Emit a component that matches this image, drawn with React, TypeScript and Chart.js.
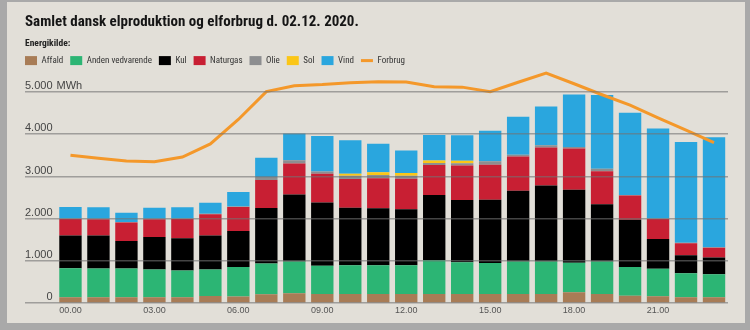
import React, { useEffect, useRef } from "react";
import { Chart, registerables } from "chart.js";

Chart.register(...registerables);

// ---------- data ----------
const hourLabels = [
  "00.00", "01.00", "02.00", "03.00", "04.00", "05.00", "06.00", "07.00",
  "08.00", "09.00", "10.00", "11.00", "12.00", "13.00", "14.00", "15.00",
  "16.00", "17.00", "18.00", "19.00", "20.00", "21.00", "22.00", "23.00",
];
const xTickHours = [0, 3, 6, 9, 12, 15, 18, 21];
const yTickValues = [0, 1000, 2000, 3000, 4000, 5000];

const affald = [140, 140, 140, 140, 140, 170, 160, 210, 235, 220, 220, 220, 220, 220, 220, 220, 215, 215, 260, 215, 175, 165, 140, 140];
const andenVedvarende = [690, 680, 680, 655, 635, 625, 695, 730, 750, 665, 680, 680, 680, 800, 750, 730, 770, 770, 700, 770, 680, 650, 570, 545];
const kul = [775, 780, 650, 770, 760, 805, 855, 1315, 1590, 1500, 1360, 1350, 1325, 1540, 1475, 1500, 1680, 1800, 1725, 1360, 1120, 705, 425, 395];
const naturgas = [390, 390, 440, 425, 460, 505, 570, 660, 730, 680, 680, 710, 720, 710, 815, 830, 805, 900, 980, 780, 575, 475, 285, 235];
const olie = [10, 10, 10, 10, 10, 10, 10, 75, 80, 55, 80, 75, 70, 50, 55, 80, 45, 55, 35, 60, 10, 10, 10, 10];
const sol = [0, 0, 0, 0, 0, 0, 0, 0, 0, 0, 45, 65, 65, 60, 60, 0, 0, 0, 0, 0, 0, 0, 0, 0];
const vind = [270, 270, 220, 260, 265, 265, 345, 455, 630, 840, 790, 675, 535, 600, 600, 720, 900, 915, 1240, 1745, 1950, 2130, 2385, 2605];
const forbrug = [3505, 3430, 3365, 3350, 3460, 3770, 4350, 5010, 5150, 5175, 5220, 5245, 5235, 5125, 5115, 5005, 5230, 5450, 5195, 4935, 4690, 4390, 4095, 3800];

const TITLE = "Samlet dansk elproduktion og elforbrug d. 02.12. 2020.";
const SUBTITLE = "Energikilde:";
const UNIT = "MWh";

// ---------- style ----------
const NARROW = '"Liberation Sans Narrow", "Roboto Condensed", "DejaVu Sans Condensed", Lato, sans-serif';
const REGULAR = '"Liberation Sans", Arial, sans-serif';
const Y_FONT_SIZE = 11;
const Y_LABEL_OFFSET = -6;

const COLORS = {
  affald: "#a87c56",
  anden: "#2cb574",
  kul: "#000000",
  naturgas: "#c81f33",
  olie: "#8d8e90",
  sol: "#fbc617",
  vind: "#2aa6de",
  forbrug: "#f4982a",
};

const fmt = (v: number) => String(v).replace(/\B(?=(\d{3})+(?!\d))/g, ".");
const pts = (arr: number[]) => arr.map((v, i) => ({ x: i, y: v }));

const unitPlugin = {
  id: "unitLabel",
  afterDraw(chart: any) {
    const ys = chart.scales.y;
    const ctx = chart.ctx;
    const top = yTickValues[yTickValues.length - 1];
    ctx.save();
    ctx.font = `${Y_FONT_SIZE}px ${REGULAR}`;
    ctx.fillStyle = "#444";
    ctx.textAlign = "left";
    ctx.textBaseline = "middle";
    const w = ctx.measureText(fmt(top)).width;
    ctx.fillText(UNIT, chart.chartArea.left + w + 4, ys.getPixelForValue(top) + Y_LABEL_OFFSET);
    ctx.restore();
  },
};

export default function App() {
  const ref = useRef<HTMLCanvasElement | null>(null);

  useEffect(() => {
    if (!ref.current) return;
    const barDs = (label: string, data: number[], color: string) => ({
      type: "bar" as const,
      label,
      data: pts(data),
      backgroundColor: color,
      borderWidth: 0,
      barPercentage: 0.8,
      categoryPercentage: 1,
      stack: "prod",
    });
    const chart = new Chart(ref.current, {
      type: "bar",
      data: {
        datasets: [
          barDs("Affald", affald, COLORS.affald),
          barDs("Anden vedvarende", andenVedvarende, COLORS.anden),
          barDs("Kul", kul, COLORS.kul),
          barDs("Naturgas", naturgas, COLORS.naturgas),
          barDs("Olie", olie, COLORS.olie),
          barDs("Sol", sol, COLORS.sol),
          barDs("Vind", vind, COLORS.vind),
          {
            type: "line" as const,
            label: "Forbrug",
            data: pts(forbrug),
            borderColor: COLORS.forbrug,
            backgroundColor: COLORS.forbrug,
            borderWidth: 3,
            pointRadius: 0,
            tension: 0,
            clip: false as any,
            order: -1,
            stack: "forbrug",
          } as any,
        ],
      },
      plugins: [unitPlugin],
      options: {
        responsive: false,
        animation: false,
        events: [],
        layout: { padding: { left: 11, right: 17, top: 0, bottom: 5 } },
        scales: {
          x: {
            type: "linear",
            offset: false,
            min: -1.625,
            max: 23.5,
            stacked: true,
            afterBuildTicks: (axis: any) => {
              axis.ticks = xTickHours.map((v) => ({ value: v }));
            },
            grid: { display: false, drawTicks: false, offset: false },
            border: { display: false },
            ticks: {
              padding: 2,
              font: { family: REGULAR, size: 9 },
              color: "#555",
              maxRotation: 0,
              autoSkip: false,
              callback: (v: any) => hourLabels[Number(v)],
            },
          },
          y: {
            type: "linear",
            min: 0,
            max: 5400,
            stacked: true,
            afterBuildTicks: (axis: any) => {
              axis.ticks = yTickValues.map((v) => ({ value: v }));
            },
            grid: {
              color: "rgba(115,115,115,0.6)",
              lineWidth: 1.5,
              drawTicks: true,
              tickLength: 7,
              tickColor: "rgba(0,0,0,0)",
              z: 1,
            },
            border: { display: false },
            ticks: {
              mirror: true,
              crossAlign: "far",
              padding: 0,
              labelOffset: Y_LABEL_OFFSET,
              font: { family: REGULAR, size: Y_FONT_SIZE },
              color: "#444",
              callback: (v: any) => fmt(Number(v)),
            },
          },
        },
        plugins: {
          title: {
            display: true,
            text: TITLE,
            align: "start",
            fullSize: false,
            color: "#151515",
            font: { family: NARROW, size: 15, weight: "bold" },
            padding: { top: 11.5, bottom: 0 },
          },
          subtitle: {
            display: true,
            text: SUBTITLE,
            align: "start",
            fullSize: false,
            color: "#222",
            font: { family: NARROW, size: 9.5, weight: "bold", lineHeight: 0.8 },
            padding: { top: 8, bottom: 2 },
          },
          legend: {
            display: true,
            position: "top",
            align: "start",
            fullSize: true,
            labels: {
              usePointStyle: true,
              pointStyleWidth: 12,
              boxHeight: 12,
              padding: 7,
              color: "#333",
              font: { family: NARROW, size: 9 },
              generateLabels: (c: any) => {
                const items = (Chart.defaults.plugins.legend.labels as any).generateLabels(c);
                items.sort((a: any, b: any) => a.datasetIndex - b.datasetIndex);
                return items.map((it: any) => {
                  const isLine = c.data.datasets[it.datasetIndex].type === "line";
                  return { ...it, pointStyle: isLine ? "line" : "rect", lineWidth: isLine ? 3 : 0 };
                });
              },
            },
          },
          tooltip: { enabled: false },
        },
      } as any,
    });
    return () => chart.destroy();
  }, []);

  return (
    <div style={{ position: "fixed", left: 0, top: 0, width: 750, height: 330, background: "#a9a9a9" }}>
      <div style={{ position: "absolute", left: 7, top: 2, width: 738, height: 321, background: "#e2dfd8" }}>
        <canvas ref={ref} width={738} height={321} style={{ display: "block" }} />
      </div>
    </div>
  );
}
